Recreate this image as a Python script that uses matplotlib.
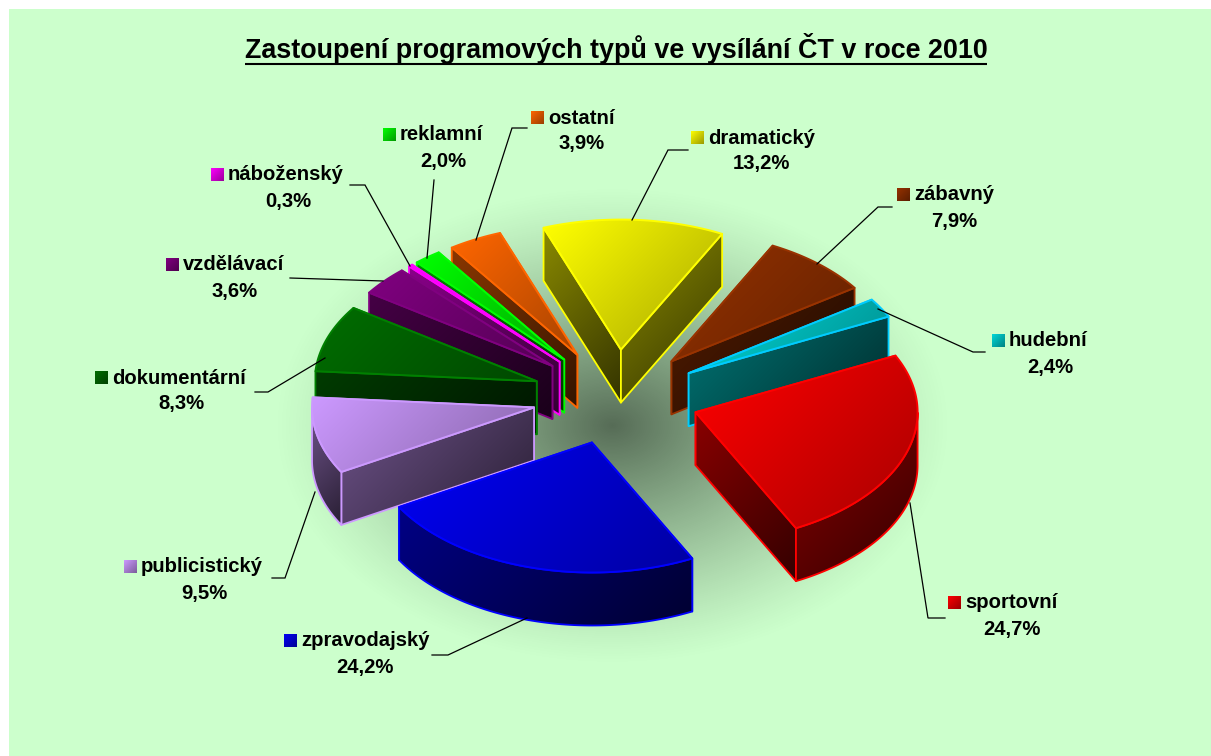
import numpy as np
import matplotlib
matplotlib.use("Agg")
from matplotlib import pyplot as plt
from matplotlib.patches import Polygon, Rectangle

plt.rcParams['font.family'] = ['Liberation Sans', 'DejaVu Sans']

# Data, clockwise from the top
categories = ["dramatický", "zábavný", "hudební", "sportovní", "zpravodajský", "publicistický",
              "dokumentární", "vzdělávací", "náboženský", "reklamní", "ostatní"]
values = [13.2, 7.9, 2.4, 24.7, 24.2, 9.5, 8.3, 3.6, 0.3, 2.0, 3.9]
title = "Zastoupení programových typů ve vysílání ČT v roce 2010"

# Colours per slice
face_colors = ["#ffff00", "#963200", "#00d8d8", "#ff0000", "#0000f5", "#cc99ff",
               "#006e00", "#800080", "#ff00ff", "#00ff00", "#ff6600"]
edge_colors = ["#ffff00", "#993300", "#00ccff", "#ff0000", "#0000ff", "#cc99ff",
               "#008000", "#800080", "#ff00ff", "#00ff00", "#ff6600"]

# Label layout in pixels: left of key, y of name line, centre x of value line
label_key_x = [691, 897, 992, 948, 284, 124, 95, 166, 211, 383, 531]
label_y = [138, 195, 341, 603, 641, 567, 378, 265, 175, 135, 118]
label_center_x = [761, 954, 1050, 1012, 365, 204, 181, 235, 288, 443, 582]
# Leader lines: start at the slice, corner, end at the label
leader_start = [(632, 220), (817, 264), (878, 309), (910, 503), (527, 618), (315, 492),
                (325, 358), (383, 281), (410, 266), (427, 258), (476, 240)]
leader_corner = [(668, 150), (878, 207), (973, 352), (928, 618), (448, 655), (285, 578),
                 (268, 392), None, (365, 185), None, (512, 128)]
leader_end = [(688, 150), (892, 207), (985, 352), (945, 618), (432, 655), (272, 578),
              (255, 392), (290, 278), (350, 185), (434, 180), (527, 128)]

W, H = 1211, 756
CX, CY = 616, 397
RX, RY = 222, 130
EX, EY = 84, 47.5
DEPTH = 53
START = -20.4


def shade(col, f):
    return np.array(matplotlib.colors.to_rgb(col)) * f


def gradient_fill(ax, pts, c0, c1, z):
    # linear gradient, upper left to lower right, clipped on the polygon
    pts = np.asarray(pts)
    x0, y0 = pts.min(axis=0)
    x1, y1 = pts.max(axis=0)
    n = 64
    yy, xx = np.mgrid[0:1:n * 1j, 0:1:n * 1j]
    t = ((xx * (x1 - x0) + yy * (y1 - y0)) / max((x1 - x0) + (y1 - y0), 1))[..., None]
    rgb = c0 * (1 - t) + c1 * t
    im = ax.imshow(rgb, extent=(x0, x1, y1, y0), aspect='auto', interpolation='bilinear', zorder=z)
    clip = Polygon(pts, closed=True, transform=ax.transData)
    im.set_clip_path(clip)


def outline(ax, pts, col, z, lw=1.3):
    ax.add_patch(Polygon(pts, closed=True, fill=False, edgecolor=col, linewidth=lw, joinstyle='round', zorder=z))


fig = plt.figure(figsize=(W / 100, H / 100), dpi=100, facecolor='white')
ax = fig.add_axes([0, 0, 1, 1])
ax.set_axis_off()
ax.set_xlim(0, W)
ax.set_ylim(H, 0)
ax.set_autoscale_on(False)

# plot background
ax.add_patch(Rectangle((9, 9), W, H, facecolor='#ccffcc', edgecolor='none', zorder=0))

# soft shadow under the pie
yy, xx = np.mgrid[0:H, 0:W]
d = np.sqrt(((xx - 612) / 340.0) ** 2 + ((yy - 425) / 240.0) ** 2)
alpha = 0.58 * np.clip(1 - d, 0, 1) ** 1.2
shadow = np.zeros((H, W, 4))
shadow[..., 3] = alpha
ax.imshow(shadow, extent=(0, W, H, 0), aspect='auto', zorder=1)

# slice angles, clockwise from the top
vals = np.array(values)
cum = np.concatenate([[0], np.cumsum(vals)]) / vals.sum() * 360 + START
slices = []
for i in range(len(vals)):
    a0, a1 = np.radians(cum[i]), np.radians(cum[i + 1])
    mid = (a0 + a1) / 2
    ox = CX + EX * np.sin(mid)
    oy = CY - EY * np.cos(mid)
    t = np.linspace(a0, a1, max(int(np.degrees(a1 - a0)), 3) + 2)
    rim = np.column_stack([ox + RX * np.sin(t), oy - RY * np.cos(t)])
    slices.append(dict(i=i, o=(ox, oy), rim=rim, t=t, sort=oy - 45 * np.cos(mid)))

down = np.array([0, DEPTH])
z = 2.0
for s in sorted(slices, key=lambda q: q['sort']):
    i = s['i']
    o = np.array(s['o'])
    rim = s['rim']
    col = face_colors[i]
    edge = edge_colors[i]

    # side faces first, back ones before front ones
    faces = []
    faces.append(np.array([o, rim[0], rim[0] + down, o + down]))
    faces.append(np.array([o, rim[-1], rim[-1] + down, o + down]))
    front = np.cos(s['t']) < 0
    if front.sum() > 1:
        arc = rim[front]
        faces.append(np.vstack([arc, (arc + down)[::-1]]))
    faces.sort(key=lambda f: f[:, 1].mean())
    for f in faces:
        gradient_fill(ax, f, shade(col, 0.54), shade(col, 0.2), z)
        z += 0.01
        outline(ax, f, edge, z)
        z += 0.01

    # top face
    top = np.vstack([o, rim])
    gradient_fill(ax, top, shade(col, 1.0), shade(col, 0.66), z)
    z += 0.01
    outline(ax, top, edge, z, lw=1.4)
    z += 0.01

# leader lines and labels above everything
LZ = 20
for i in range(len(categories)):
    pts = [leader_start[i]]
    if leader_corner[i] is not None:
        pts.append(leader_corner[i])
    pts.append(leader_end[i])
    pts = np.array(pts)
    ax.plot(pts[:, 0], pts[:, 1], color='black', lw=0.9, zorder=LZ, solid_joinstyle='miter')

    y = label_y[i]
    kx = label_key_x[i]
    key = [(kx, y - 7), (kx + 13, y - 7), (kx + 13, y + 6), (kx, y + 6)]
    gradient_fill(ax, key, shade(face_colors[i], 1.0), shade(face_colors[i], 0.6), LZ)
    ax.text(kx + 17, y, categories[i], fontsize=14.6, fontweight='bold', color='black',
            ha='left', va='center', zorder=LZ)
    ax.text(label_center_x[i], y + 26, ("%.1f" % values[i]).replace('.', ',') + "%", fontsize=14.6,
            fontweight='bold', color='black', ha='center', va='center', zorder=LZ)

# title, underlined by hand
tt = ax.text(616, 49, title, fontsize=19.35, fontweight='bold', color='black', ha='center', va='center', zorder=LZ)
fig.canvas.draw()
bb = tt.get_window_extent()
ax.plot([bb.x0, bb.x1], [64, 64], color='black', lw=1.5, zorder=LZ, solid_capstyle='butt')

fig.savefig("out.png", dpi=100, facecolor='white')
